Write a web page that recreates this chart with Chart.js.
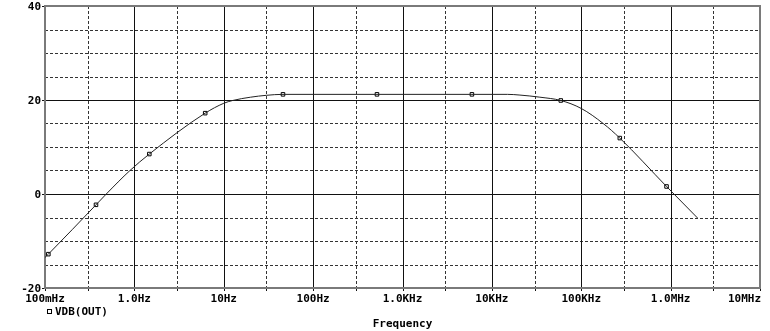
<!DOCTYPE html>
<html>
<head>
<meta charset="utf-8">
<script src="https://cdn.jsdelivr.net/npm/chart.js@4/dist/chart.umd.min.js"></script>
<style>
  html, body { margin: 0; padding: 0; background: #fff; }
  #wrap { width: 770px; height: 331px; position: relative; }
</style>
</head>
<body>
<div id="wrap"><canvas id="c" width="770" height="331"></canvas></div>
<script>
// ---- data ----
const curveFreq = [0.1, 0.109, 0.372, 0.485, 0.893, 1.47, 6.2, 10, 12.6, 20, 30, 46, 518, 5980, 15000, 20600, 34400, 59000, 100000, 176000, 270000, 900000, 2000000];
const curveDb   = [-13.5, -12.8, -2.3, 0.0, 5.0, 8.5, 17.2, 19.3, 19.9, 20.6, 21.0, 21.2, 21.2, 21.2, 21.2, 21.05, 20.6, 19.9, 18.2, 15.0, 11.9, 1.6, -5.1];
const markerFreq = [0.109, 0.372, 1.47, 6.2, 46, 518, 5980, 59000, 270000, 900000];
const markerDb   = [-12.8, -2.3, 8.5, 17.2, 21.2, 21.2, 21.2, 19.9, 11.9, 1.6];
const xMajorTicks = [0.1, 1, 10, 100, 1000, 10000, 100000, 1000000, 10000000];
const xMinorTicks = [0.3, 3, 30, 300, 3000, 30000, 300000, 3000000];
const xTickLabels = ['100mHz', '1.0Hz', '10Hz', '100Hz', '1.0KHz', '10KHz', '100KHz', '1.0MHz', '10MHz'];
const yMajorTicks = [-20, 0, 20, 40];
const yMinorTicks = [-15, -10, -5, 5, 10, 15, 25, 30, 35];
const yTickLabels = ['-20', '0', '20', '40'];
const seriesName = 'VDB(OUT)';
const xTitle = 'Frequency';

const FONT = 'bold 11px "DejaVu Sans Mono", "Liberation Mono", monospace';

const pspicePlugin = {
  id: 'pspice',
  beforeDatasetsDraw(chart) {
    const ctx = chart.ctx, a = chart.chartArea;
    const xs = chart.scales.x, ys = chart.scales.y;
    ctx.save();
    ctx.strokeStyle = '#333';
    ctx.lineWidth = 1;
    ctx.setLineDash([3, 2]);
    xMinorTicks.forEach(v => {
      const px = Math.round(xs.getPixelForValue(v)) + 0.5;
      ctx.beginPath(); ctx.moveTo(px, a.top); ctx.lineTo(px, a.bottom); ctx.stroke();
    });
    yMinorTicks.forEach(v => {
      const py = Math.round(ys.getPixelForValue(v)) + 0.5;
      ctx.beginPath(); ctx.moveTo(a.left, py); ctx.lineTo(a.right, py); ctx.stroke();
    });
    ctx.setLineDash([]);
    ctx.strokeStyle = '#111';
    xMajorTicks.forEach(v => {
      const px = Math.round(xs.getPixelForValue(v)) + 0.5;
      ctx.beginPath(); ctx.moveTo(px, a.top); ctx.lineTo(px, a.bottom + 3); ctx.stroke();
    });
    xMinorTicks.forEach(v => {
      const px = Math.round(xs.getPixelForValue(v)) + 0.5;
      ctx.beginPath(); ctx.moveTo(px, a.bottom); ctx.lineTo(px, a.bottom + 3); ctx.stroke();
    });
    yMajorTicks.forEach(v => {
      const py = Math.round(ys.getPixelForValue(v)) + 0.5;
      ctx.beginPath(); ctx.moveTo(a.left - 3, py); ctx.lineTo(a.right, py); ctx.stroke();
    });
    ctx.strokeStyle = '#7a7a7a';
    ctx.lineWidth = 2;
    ctx.strokeRect(a.left, a.top, a.right - a.left, a.bottom - a.top);
    ctx.restore();
  },
  afterDraw(chart) {
    const ctx = chart.ctx, a = chart.chartArea;
    const xs = chart.scales.x, ys = chart.scales.y;
    ctx.save();
    ctx.fillStyle = '#000';
    ctx.font = FONT;
    ctx.textAlign = 'right';
    ctx.textBaseline = 'middle';
    yMajorTicks.forEach((v, i) => {
      ctx.fillText(yTickLabels[i], a.left - 4, ys.getPixelForValue(v) + 1);
    });
    xMajorTicks.forEach((v, i) => {
      const last = i === xMajorTicks.length - 1;
      ctx.textAlign = last ? 'right' : 'center';
      const px = xs.getPixelForValue(v);
      ctx.fillText(xTickLabels[i], last ? px + 1 : px, a.bottom + 11);
    });
    ctx.textAlign = 'center';
    ctx.fillText(xTitle, (a.left + a.right) / 2, 324);
    ctx.strokeStyle = '#000';
    ctx.lineWidth = 1;
    ctx.strokeRect(47.5, 309.5, 4, 4);
    ctx.textAlign = 'left';
    ctx.fillText(seriesName, 55, 312);
    ctx.restore();
  }
};

new Chart(document.getElementById('c'), {
  type: 'line',
  data: {
    datasets: [
      {
        label: seriesName,
        data: curveFreq.map((f, i) => ({ x: f, y: curveDb[i] })),
        borderColor: '#222',
        borderWidth: 1,
        pointRadius: 0,
        cubicInterpolationMode: 'monotone',
        fill: false
      },
      {
        label: 'markers',
        data: markerFreq.map((f, i) => ({ x: f, y: markerDb[i] })),
        showLine: false,
        pointStyle: 'rect',
        pointRadius: 2.5,
        pointBorderWidth: 1,
        pointBorderColor: '#000',
        pointBackgroundColor: 'rgba(255,255,255,0)'
      }
    ]
  },
  options: {
    responsive: false,
    animation: false,
    layout: { padding: { left: 45, right: 10, top: 6, bottom: 43 } },
    plugins: { legend: { display: false }, tooltip: { enabled: false } },
    scales: {
      x: {
        type: 'logarithmic',
        min: 0.1,
        max: 10000000,
        grid: { display: false },
        border: { display: false },
        ticks: { display: false },
        afterFit(s) { s.height = 0; }
      },
      y: {
        type: 'linear',
        min: -20,
        max: 40,
        grid: { display: false },
        border: { display: false },
        ticks: { display: false },
        afterFit(s) { s.width = 0; }
      }
    }
  },
  plugins: [pspicePlugin]
});
</script>
</body>
</html>
